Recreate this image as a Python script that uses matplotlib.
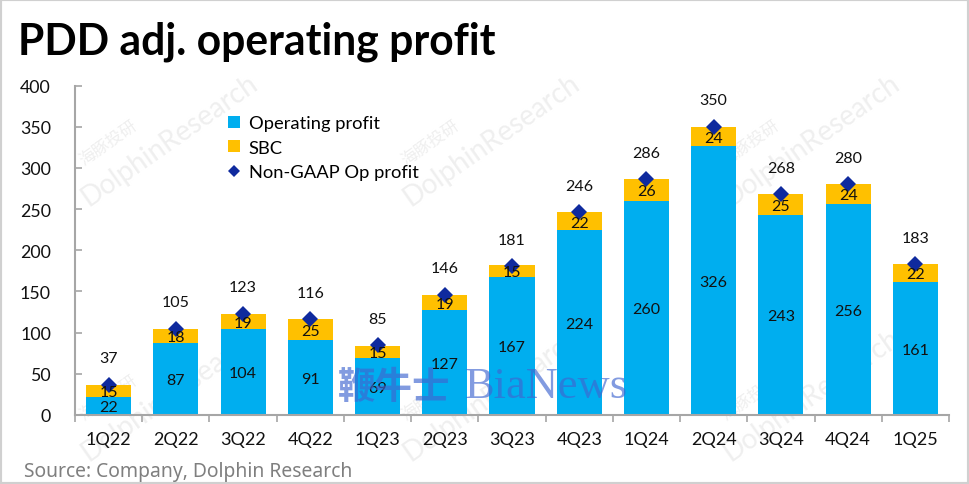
import matplotlib
matplotlib.use("Agg")
import matplotlib.pyplot as plt
from matplotlib.patches import Rectangle
from matplotlib.lines import Line2D

quarters = ["1Q22","2Q22","3Q22","4Q22","1Q23","2Q23","3Q23","4Q23","1Q24","2Q24","3Q24","4Q24","1Q25"]
op_profit = [22,87,104,91,69,127,167,224,260,326,243,256,161]
sbc = [15,18,19,25,15,19,15,22,26,24,25,24,22]
non_gaap = [37,105,123,116,85,146,181,246,286,350,268,280,183]
title = "PDD adj. operating profit"
source = "Source: Company, Dolphin Research"
wm_positions = [(170,140),(492,140),(812,140),(170,395),(492,395),(812,395)]

W, H = 969, 485
plt.rcParams['font.family'] = ['Lato', 'DejaVu Sans']
fig = plt.figure(figsize=(W/100, H/100), dpi=100, facecolor='white')
ax = fig.add_axes([75/W, 1-416/H, (949-75)/W, (416-86.5)/H], zorder=2)
ax.patch.set_visible(False)
x = list(range(len(quarters)))
BLUE, GOLD, NAVY = '#00AEEF', '#FFC000', '#0F2A9E'
ax.bar(x, op_profit, width=0.67, color=BLUE, zorder=2)
ax.bar(x, sbc, width=0.67, bottom=op_profit, color=GOLD, zorder=2)
ax.plot(x, non_gaap, ls='none', marker='D', ms=8, color=NAVY, mew=0, zorder=3)
ax.set_xlim(-0.5, 12.5)
ax.set_ylim(0, 400)
ax.set_yticks(range(0, 401, 50))
ax.set_xticks(x)
ax.set_xticklabels(quarters)
ax.set_xticks([i-0.5 for i in range(14)], minor=True)
ax.tick_params(axis='x', which='major', length=0, pad=11.5, labelsize=13, labelcolor='#111111')
ax.tick_params(axis='x', which='minor', length=5, width=1.2, color='#A6A6A6', direction='out')
ax.tick_params(axis='y', length=5, width=1.2, color='#A6A6A6', direction='in', pad=17.3, labelsize=12.8, labelcolor='#111111')
for s in ['top','right']:
    ax.spines[s].set_visible(False)
for s in ['left','bottom']:
    ax.spines[s].set_color('#A6A6A6')
    ax.spines[s].set_linewidth(1.5)

for i in x:
    ax.annotate(str(op_profit[i]), (i, op_profit[i]/2), xytext=(0, -0.8), textcoords='offset points',
                ha='center', va='center', fontsize=11.5, color='#111111', zorder=5)
    ax.annotate(str(sbc[i]), (i, op_profit[i]+sbc[i]/2), xytext=(0, -0.8), textcoords='offset points',
                ha='center', va='center', fontsize=11.5, color='#111111', zorder=5)
    ax.annotate(str(non_gaap[i]), (i, non_gaap[i]), xytext=(0, 19), textcoords='offset points',
                ha='center', va='center', fontsize=11.5, color='#111111', zorder=5)

# frame and heading
fig.add_artist(Rectangle((0,0), 1, 1, transform=fig.transFigure, fill=False, ec='#D0D0D0', lw=3))
fig.text(18/W, 1-42/H, title, fontsize=30.7, fontweight='bold', va='center', ha='left', color='black', zorder=3)
fig.text(24/W, 1-472.5/H, source, fontsize=13.9, family=['Noto Sans','DejaVu Sans'], va='center', ha='left', color='#7F7F7F')

# legend
handles = [Line2D([],[],ls='none',marker='s',ms=8,mew=0,color=BLUE),
           Line2D([],[],ls='none',marker='s',ms=8,mew=0,color=GOLD),
           Line2D([],[],ls='none',marker='D',ms=5.8,mew=0,color=NAVY)]
leg = ax.legend(handles, ["Operating profit","SBC","Non-GAAP Op profit"], loc='upper left',
           bbox_to_anchor=(225/W, 1-116/H), bbox_transform=fig.transFigure, frameon=False,
           fontsize=13.2, labelspacing=0.47, handletextpad=0.3, handlelength=1.0, borderpad=0, borderaxespad=0)

# watermarks
for px, py in wm_positions:
    fig.text(px/W, 1-py/H, "DolphinResearch", fontsize=20, rotation=35, rotation_mode='anchor',
             color='#EFEFEF', ha='center', va='center', zorder=0)
    fig.text((px-62)/W, 1-(py+3)/H, "海豚投研", fontsize=12, rotation=35, rotation_mode='anchor',
             family=['Noto Sans CJK SC','DejaVu Sans'], color='#EFEFEF', ha='center', va='center', zorder=0)
ax.text(394/W, 1-387/H, "鞭牛士", fontsize=27, fontweight='bold', family=['Noto Sans CJK SC','DejaVu Sans'],
        color='#3F66D0', alpha=0.65, ha='center', va='center', zorder=6, transform=fig.transFigure, clip_on=False)
ax.text(546/W, 1-387/H, "BiaNews", fontsize=32, family=['Liberation Serif','DejaVu Serif'],
        color='#3F66D0', alpha=0.65, ha='center', va='center', zorder=6, transform=fig.transFigure, clip_on=False)
fig.savefig("out.png", dpi=100)
